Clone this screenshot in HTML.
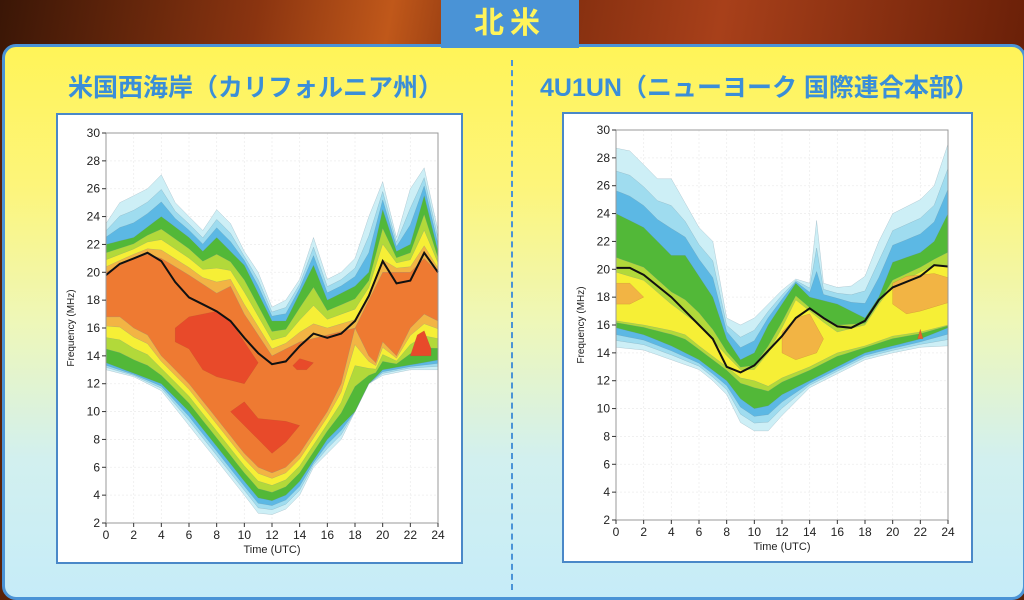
<!DOCTYPE html>
<html><head><meta charset="utf-8">
<style>
html,body{margin:0;padding:0;}
body{width:1024px;height:586px;overflow:hidden;position:relative;background:#5a2208;font-family:"Liberation Sans","Noto Sans CJK JP",sans-serif;}
#sky{position:absolute;left:0;top:0;width:1024px;height:60px;background:linear-gradient(100deg,#3a1606 0%,#8a3410 25%,#c0581a 38%,#7a2a0c 50%,#a8401a 70%,#6a2008 100%);}
#panel{position:absolute;left:2px;top:44px;width:1018px;height:550px;border:3px solid #4a93d6;border-radius:14px;background:linear-gradient(180deg,#fff458 0%,#fdf57a 25%,#eef7b8 50%,#d2f0ef 75%,#c6ecf8 100%);}
#tab{position:absolute;left:441px;top:0;width:138px;height:48px;background:#4a93d6;color:#fff45a;font-weight:bold;font-size:30px;text-align:center;line-height:48px;letter-spacing:6px;}
#div{position:absolute;left:511px;top:60px;height:530px;border-left:2px dashed #4a93d6;}
.t{position:absolute;top:68px;color:#3a8ed8;font-weight:bold;font-size:25px;white-space:nowrap;}
svg{position:absolute;left:0;top:0;}
</style></head><body>
<div id="sky"></div>
<div id="panel"></div>
<div id="tab">北米</div>
<div id="div"></div>
<div class="t" style="left:68px">米国西海岸（カリフォルニア州）</div>
<div class="t" style="left:540px">4U1UN（ニューヨーク 国際連合本部）</div>
<svg id="s" width="1024" height="586" xmlns="http://www.w3.org/2000/svg">
<rect x="57" y="114" width="405" height="449" fill="#fff" stroke="#4a88c8" stroke-width="2"/>
<rect x="563" y="113" width="409" height="449" fill="#fff" stroke="#4a88c8" stroke-width="2"/>
</svg>
<script>
var S=document.getElementById('s'),NS='http://www.w3.org/2000/svg';
function el(n,a,t){var e=document.createElementNS(NS,n);for(var k in a)e.setAttribute(k,a[k]);if(t!=null)e.textContent=t;S.appendChild(e);return e;}
function samp(c,t){for(var i=0;i<c.length-1;i++){if(t>=c[i][0]&&t<=c[i+1][0]){var r=(t-c[i][0])/(c[i+1][0]-c[i][0]||1);return c[i][1]+r*(c[i+1][1]-c[i][1]);}}return c[c.length-1][1];}
function P(a){var r=[];for(var i=0;i<a.length;i+=2)r.push([a[i],a[i+1]]);return r;}
function chart(o){
 var X=function(t){return o.x0+t*(o.x1-o.x0)/24},Y=function(f){return o.y2-(f-2)*(o.y2-o.y30)/28};
 for(var t=0;t<=24;t+=2)el('line',{x1:X(t),x2:X(t),y1:Y(2),y2:Y(30),stroke:'#eee','stroke-width':0.8,'stroke-dasharray':'2,2'});
 for(var f=2;f<=30;f+=2)el('line',{x1:X(0),x2:X(24),y1:Y(f),y2:Y(f),stroke:'#eee','stroke-width':0.8,'stroke-dasharray':'2,2'});
 var ts=[];for(var t=0;t<=24;t+=0.5)ts.push(t);
 o.extra.forEach(function(e){if(ts.indexOf(e)<0)ts.push(e)});ts.sort(function(a,b){return a-b});
 function env(lv){var up=[],lo=[];ts.forEach(function(t){var L=o.levels;var k=Math.min(Math.floor(lv),L.length-2);var r=lv-k;
   var u=samp(L[k][0],t)*(1-r)+samp(L[k+1][0],t)*r,l=samp(L[k][1],t)*(1-r)+samp(L[k+1][1],t)*r;up.push([t,u]);lo.push([t,l]);});
   return up.concat(lo.reverse());}
 o.bands.forEach(function(b){var pts=env(b[0]).map(function(p){return X(p[0]).toFixed(1)+','+Y(p[1]).toFixed(1)}).join(' ');
   el('polygon',{points:pts,fill:b[1],stroke:'#6a8a9a','stroke-width':0.4,'stroke-opacity':0.5});});
 o.patches.forEach(function(p){el('polygon',{points:p[0].map(function(q){return X(q[0]).toFixed(1)+','+Y(q[1]).toFixed(1)}).join(' '),fill:p[1],stroke:'#a05030','stroke-width':0.4,'stroke-opacity':0.4});});
 el('polyline',{points:o.line.map(function(q){return X(q[0]).toFixed(1)+','+Y(q[1]).toFixed(1)}).join(' '),fill:'none',stroke:'#111','stroke-width':2});
 el('rect',{x:X(0),y:Y(30),width:X(24)-X(0),height:Y(2)-Y(30),fill:'none',stroke:'#999','stroke-width':1});
 for(var t=0;t<=24;t+=2){el('line',{x1:X(t),x2:X(t),y1:Y(2),y2:Y(2)+4,stroke:'#333'});el('text',{x:X(t),y:Y(2)+16,'font-size':12,'text-anchor':'middle',fill:'#222'},t);}
 for(var f=2;f<=30;f+=2){el('line',{x1:X(0)-4,x2:X(0),y1:Y(f),y2:Y(f),stroke:'#333'});el('text',{x:X(0)-6,y:Y(f)+4,'font-size':12,'text-anchor':'end',fill:'#222'},f);}
 el('text',{x:(X(0)+X(24))/2,y:Y(2)+30,'font-size':11,'text-anchor':'middle',fill:'#222'},'Time (UTC)');
 el('text',{x:0,y:0,'font-size':10,'text-anchor':'middle',fill:'#222',transform:'translate('+(X(0)-32)+','+Y(16)+') rotate(-90)'},'Frequency (MHz)');
}
var C=['#cdeff6','#9fdcef','#5cb8e4','#52b838','#b2d93a','#f6ef36','#f2b444','#ee7a32','#e84a2a'];
var Lout=[P([0,23.5,1,25,2,25.5,3,26,4,27,5,25,6,24,7,23,8,24.5,9,23.5,10,21.5,11,20,12,17.5,13,18,14,19.5,15,22.5,16,19.5,17,20,18,21,19,24,20,26.5,21,22.5,22,26,23,27.5,24,23]),
 P([0,13,2,12.5,4,11.5,6,9,8,6.5,10,4,11,2.7,12,2.6,13,3,14,4,15,6,16,7,17,8,18,10,19,12,20,12.6,22,13,24,13])];
var Lgr=[P([0,22,2,22.5,4,24,6,22.5,7,21.5,8,22.5,10,20.5,12,16.5,13,16.5,14,18.5,15,20.5,16,18,18,19,19,20,20,24.5,21,21.5,22,22,23,25.5,24,21.5]),
 P([0,13.5,4,12,6,10,8,7.5,10,5,11,3.8,12,3.6,13,4,14,5,16,8,18,10,19,12,20,13,24,13.7])];
var Lor=[P([0,20,2,21,3,21.3,4,21,6,19.8,8,18.5,9,19,10,17,12,14,14,15,16,15.5,18,16,20,20,22,20,23,21,24,20]),
 P([0,16.8,1,16.8,2,16,3,15.5,4,14,6,12,8,9.5,10,7,11,6,12,5.6,13,6,14,7,16,10,17,12,18,16,19,14,19.5,13.5,20,15,21,14,22,16,23,17,24,16.5])];
chart({x0:106,x1:438,y30:133,y2:523,levels:[Lout,Lgr,Lor],extra:[19.5],
 bands:[[0,C[0]],[0.35,C[1]],[0.65,C[2]],[1,C[3]],[1.3,C[4]],[1.55,C[5]],[1.8,C[6]],[2,C[7]]],
 patches:[[P([5,15,5,16,6,16.8,7,17,8,17.2,9,16.5,10,15,11,13.5,10,12,8,12.5,7,13,6,14.5]),C[8]],
  [P([9,10,10,10.7,11,9.5,13,9.3,14,9,13,7.8,12,7,11,8,10,9]),C[8]],
  [P([13.5,13.3,14,13.8,15,13.5,14.5,13,13.8,13]),C[8]],
  [P([22,14,22.5,15.5,23,15.8,23.5,14.5,23.5,14]),C[8]]],
 line:P([0,19.8,1,20.6,2,21,3,21.4,4,20.8,5,19.3,6,18.2,7,17.7,8,17.2,9,16.5,10,15.3,11,14.2,12,13.4,13,13.6,14,14.7,15,15.6,16,15.3,17,15.6,18,16.5,19,18.3,20,20.8,21,19.2,22,19.4,23,21.4,24,20])});
var Rout=[P([0,28.7,1,28.5,2,27.5,3,26.5,4,26.5,6,23,7,22,8,16.5,9,16,10,16.5,11,17.5,12,18.5,13,19.3,14,19,14.5,23.5,15,19,16,18.7,17,18.8,18,19.5,19,22,20,24,22,25,23,26,24,29]),
 P([0,14.4,2,14.2,4,13.5,6,12.8,7,12,8,11,9,9,10,8.4,11,8.4,12,9.5,13,10.5,14,11.5,16,12.5,18,13.5,20,14,22,14.4,24,14.5])];
var Rgr=[P([0,24,2,23,3,22,4,21,5,21,6,19.5,7,18,8,15,9,13.5,10,14,11,16,12,17.5,13,19,14,18,16,17.5,18,16.5,19,18,20,20.5,22,21.2,23,22,24,24]),
 P([0,15.8,2,15.3,4,14.5,6,13.5,8,12,9,10.7,10,10,11,10.2,12,11,14,12,16,13,18,14,20,14.5,22,15,24,15.8])];
var Ryl=[P([0,19.8,2,19.2,4,17.5,6,16,8,13.8,9,12.8,10,12.8,11,14,12,15.8,13,17.8,14,17,15,16.2,16,15.5,18,16,19,17.5,20,18.8,22,19.8,23,20.3,24,20.3]),
 P([0,16.3,2,16,4,15.6,5,15.3,6,14.5,8,13,9,12.2,10,12,11,11.6,12,12.2,14,13,16,14,18,14.5,20,15.2,22,15.5,24,16])];
chart({x0:616,x1:948,y30:130,y2:520,levels:[Rout,Rgr,Ryl],extra:[14.5],
 bands:[[0,C[0]],[0.35,C[1]],[0.65,C[2]],[1,C[3]],[1.75,C[4]],[2,C[5]]],
 patches:[[P([0,19,1,19,2,18,1,17.5,0,17.5]),C[6]],
  [P([12,14,12,15.5,13,16.5,14,16.8,15,15,14.5,14,13,13.5]),C[6]],
  [P([20,17.5,20,19,21,19.5,23,19.7,24,19.4,24,17.6,22,17,21,16.8]),C[6]],
  [P([21.8,15,22,15.7,22.2,15]),'#e8602a']],
 line:P([0,20.1,1,20.1,2,19.6,4,18,6,16,7,15,8,13,9,12.6,10,13.1,12,15.2,13,16.5,14,17.2,15,16.5,16,15.9,17,15.8,18,16.3,19,17.8,20,18.7,22,19.5,23,20.3,24,20.2])});
</script>
</body></html>
